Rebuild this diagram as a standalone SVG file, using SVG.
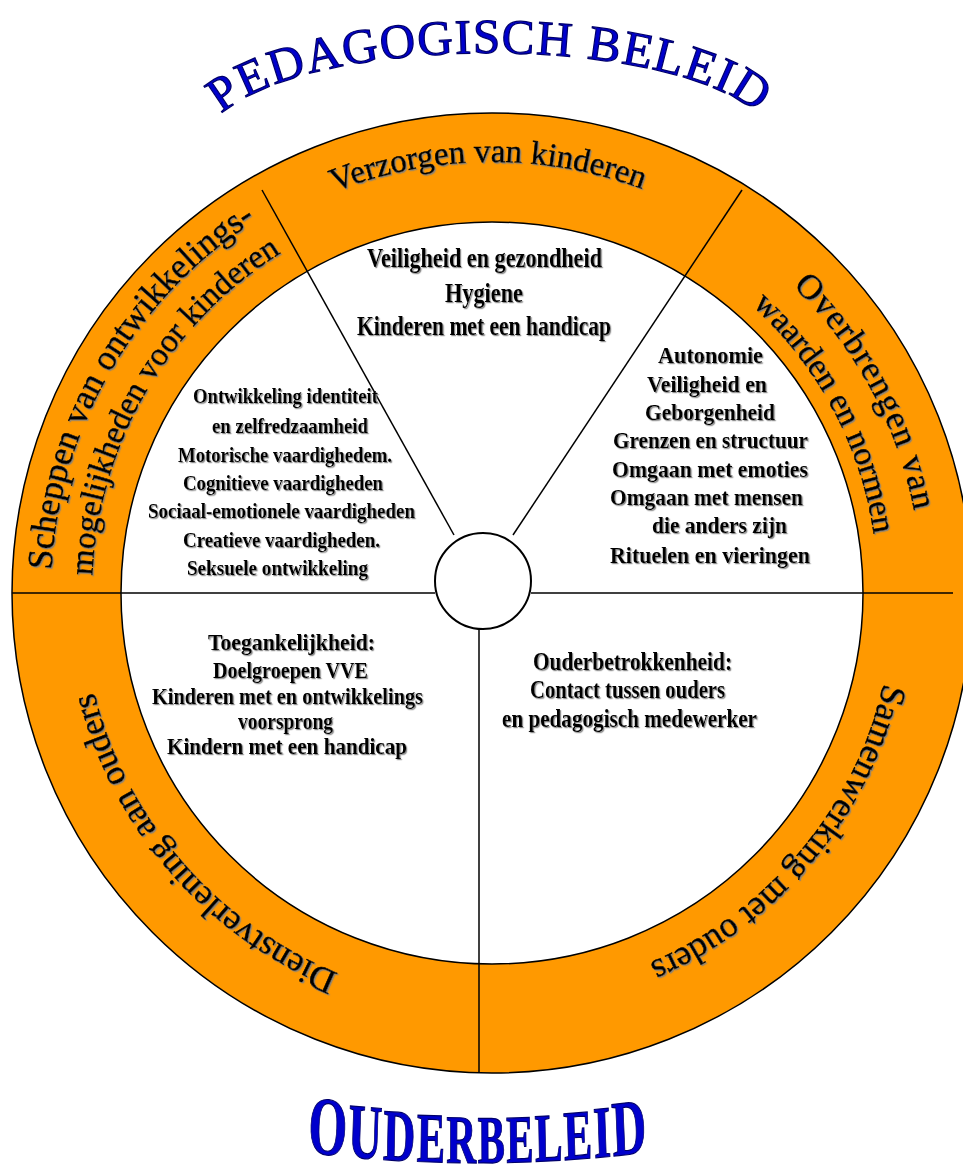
<svg xmlns="http://www.w3.org/2000/svg" width="963" height="1167" viewBox="0 0 963 1167">
<defs>
<style>
.lbl{font-family:"Liberation Serif","Times New Roman",serif;fill:#000;stroke:#000;stroke-width:0.5;}
.in{font-family:"Liberation Serif","Times New Roman",serif;font-weight:bold;fill:#000;}
.ttl{font-family:"Liberation Serif","Times New Roman",serif;fill:#0000CC;stroke:#00006A;stroke-width:1.2;}
.ln{stroke:#000;stroke-width:1.5;fill:none;}
</style>
<filter id="sh" x="-5%" y="-10%" width="110%" height="130%">
<feDropShadow dx="1.2" dy="1.2" stdDeviation="0.4" flood-color="#808080" flood-opacity="0.9"/>
</filter>
<path id="pVer" d="M 286.3,214.2 A 431 431 0 0 1 691.0,210.7"/>
<path id="pSch1" d="M 51.6,569.9 A 441 441 0 0 1 271.5,211.1"/>
<path id="pSch2" d="M 92.4,575.6 A 400 400 0 0 1 292,246.6"/>
<path id="pOv1" d="M 793.0,286.1 A 428 428 0 0 1 920.4,555.5"/>
<path id="pOv2" d="M 752.1,305.4 A 386 386 0 0 1 877.8,579.5"/>
<path id="pSam" d="M 883.7,683.4 A 402 402 0 0 1 596.0,981.3"/>
<path id="pDie" d="M 338.4,973.2 A 410 410 0 0 1 88.2,664.2"/>
<path id="pTop" d="M 205,145 A 285 92 0 0 1 775,145"/>
<path id="pBot" d="M 181.3,1151 A 3681 3681 0 0 0 774.7,1151"/>
</defs>
<rect width="963" height="1167" fill="#fff"/>

<g id="wheel">
<circle cx="492" cy="593" r="480" fill="#FF9900" stroke="#000" stroke-width="1.5"/>
<circle cx="492" cy="593" r="371" fill="#fff" stroke="#000" stroke-width="1.5"/>
</g>

<g id="connectors">
<line class="ln" x1="262" y1="190" x2="454" y2="535"/>
<line class="ln" x1="742" y1="190" x2="513" y2="535"/>
<line class="ln" x1="12" y1="593" x2="435" y2="593"/>
<line class="ln" x1="531" y1="593" x2="953" y2="593"/>
<line class="ln" x1="479" y1="630" x2="479" y2="1073"/>
</g>

<g id="center">
<circle cx="483" cy="581" r="48" fill="#fff" stroke="#000" stroke-width="2"/>
</g>

<g id="title-top">
<text class="ttl" font-size="49" letter-spacing="1.5" text-anchor="middle"><textPath href="#pTop" startOffset="50%">PEDAGOGISCH BELEID</textPath></text>
</g>

<g id="title-bottom" transform="matrix(0.6,0,0,1,191.2,0)">
<text class="ttl" font-weight="bold" letter-spacing="2.5" text-anchor="middle" stroke-width="1.3"><textPath href="#pBot" startOffset="50%"><tspan font-size="83">O</tspan><tspan font-size="78">U</tspan><tspan font-size="74">D</tspan><tspan font-size="71">E</tspan><tspan font-size="69">R</tspan><tspan font-size="68">B</tspan><tspan font-size="68">E</tspan><tspan font-size="69">L</tspan><tspan font-size="71">E</tspan><tspan font-size="74">I</tspan><tspan font-size="79">D</tspan></textPath></text>
</g>

<g id="seg-verzorgen" filter="url(#sh)">
<text class="lbl" font-size="33" text-anchor="middle"><textPath href="#pVer" startOffset="50%">Verzorgen van kinderen</textPath></text>
<text class="in" font-size="27" x="367" y="267" textLength="235" lengthAdjust="spacingAndGlyphs">Veiligheid en gezondheid</text>
<text class="in" font-size="27" x="445" y="302" textLength="78" lengthAdjust="spacingAndGlyphs">Hygiene</text>
<text class="in" font-size="27" x="357" y="335" textLength="254" lengthAdjust="spacingAndGlyphs">Kinderen met een handicap</text>
</g>

<g id="seg-overbrengen" filter="url(#sh)">
<text class="lbl" font-size="35" letter-spacing="1.2"><textPath href="#pOv1">Overbrengen van</textPath></text>
<text class="lbl" font-size="33.5"><textPath href="#pOv2">waarden en normen</textPath></text>
<text class="in" font-size="23" x="658" y="363" textLength="105" lengthAdjust="spacingAndGlyphs">Autonomie</text>
<text class="in" font-size="23" x="647" y="392" textLength="120" lengthAdjust="spacingAndGlyphs">Veiligheid en</text>
<text class="in" font-size="23" x="645" y="420" textLength="130" lengthAdjust="spacingAndGlyphs">Geborgenheid</text>
<text class="in" font-size="23" x="613" y="448" textLength="195" lengthAdjust="spacingAndGlyphs">Grenzen en structuur</text>
<text class="in" font-size="23" x="612" y="477" textLength="196" lengthAdjust="spacingAndGlyphs">Omgaan met emoties</text>
<text class="in" font-size="23" x="610" y="505" textLength="193" lengthAdjust="spacingAndGlyphs">Omgaan met mensen</text>
<text class="in" font-size="23" x="652" y="533" textLength="135" lengthAdjust="spacingAndGlyphs">die anders zijn</text>
<text class="in" font-size="23" x="610" y="563" textLength="200" lengthAdjust="spacingAndGlyphs">Rituelen en vieringen</text>
</g>

<g id="seg-scheppen" filter="url(#sh)">
<text class="lbl" font-size="35.5"><textPath href="#pSch1">Scheppen van ontwikkelings-</textPath></text>
<text class="lbl" font-size="33"><textPath href="#pSch2">mogelijkheden voor kinderen</textPath></text>
<text class="in" font-size="22" x="193" y="403" textLength="185" lengthAdjust="spacingAndGlyphs">Ontwikkeling identiteit</text>
<text class="in" font-size="22" x="212" y="433" textLength="156" lengthAdjust="spacingAndGlyphs">en zelfredzaamheid</text>
<text class="in" font-size="22" x="178" y="462" textLength="214" lengthAdjust="spacingAndGlyphs">Motorische vaardighedem.</text>
<text class="in" font-size="22" x="183" y="490" textLength="200" lengthAdjust="spacingAndGlyphs">Cognitieve vaardigheden</text>
<text class="in" font-size="22" x="148" y="518" textLength="267" lengthAdjust="spacingAndGlyphs">Sociaal-emotionele vaardigheden</text>
<text class="in" font-size="22" x="183" y="547" textLength="197" lengthAdjust="spacingAndGlyphs">Creatieve vaardigheden.</text>
<text class="in" font-size="22" x="187" y="575" textLength="181" lengthAdjust="spacingAndGlyphs">Seksuele ontwikkeling</text>
</g>

<g id="seg-dienstverlening" filter="url(#sh)">
<text class="lbl" font-size="35.3"><textPath href="#pDie">Dienstverlening aan ouders</textPath></text>
<text class="in" font-size="24" x="208" y="650" textLength="167" lengthAdjust="spacingAndGlyphs">Toegankelijkheid:</text>
<text class="in" font-size="24" x="213" y="678" textLength="155" lengthAdjust="spacingAndGlyphs">Doelgroepen VVE</text>
<text class="in" font-size="24" x="152" y="704" textLength="271" lengthAdjust="spacingAndGlyphs">Kinderen met en ontwikkelings</text>
<text class="in" font-size="24" x="238" y="729" textLength="95" lengthAdjust="spacingAndGlyphs">voorsprong</text>
<text class="in" font-size="24" x="167" y="754" textLength="240" lengthAdjust="spacingAndGlyphs">Kindern met een handicap</text>
</g>

<g id="seg-samenwerking" filter="url(#sh)">
<text class="lbl" font-size="35.5"><textPath href="#pSam">Samenwerking met ouders</textPath></text>
<text class="in" font-size="25" x="533" y="670" textLength="199" lengthAdjust="spacingAndGlyphs">Ouderbetrokkenheid:</text>
<text class="in" font-size="25" x="530" y="698" textLength="195" lengthAdjust="spacingAndGlyphs">Contact tussen ouders</text>
<text class="in" font-size="25" x="502" y="727" textLength="255" lengthAdjust="spacingAndGlyphs">en pedagogisch medewerker</text>
</g>
</svg>
